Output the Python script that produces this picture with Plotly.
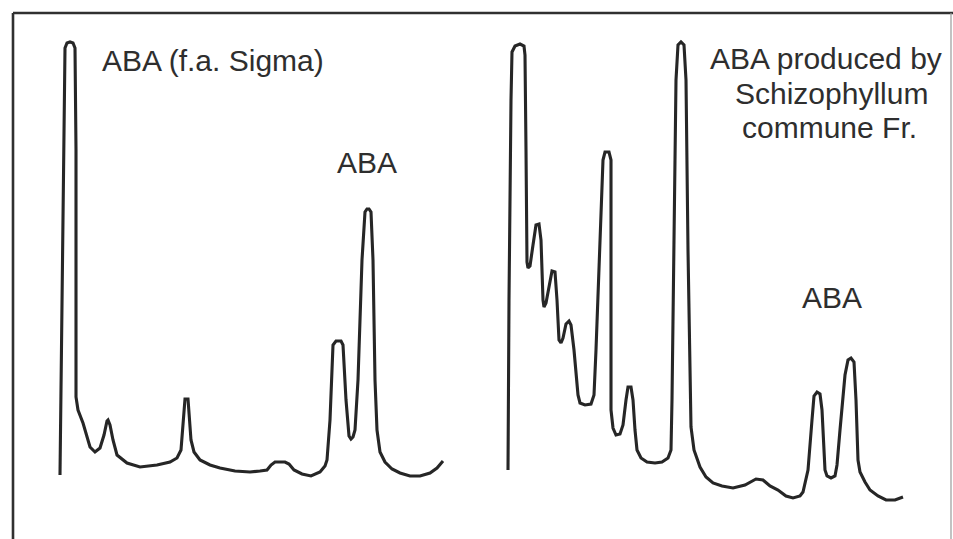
import plotly.graph_objects as go

# Trace 1: ABA standard (f.a. Sigma) - read in picture pixel coordinates
std_x = [60, 62, 64, 65, 67, 70, 73, 75, 76, 76, 78, 83, 90, 95, 100, 104, 107, 108, 110, 113, 117,
         127, 140, 157, 170, 177, 181, 185, 188, 191, 194, 200, 210, 220, 235, 250, 260, 267, 271,
         275, 285, 289, 294, 302, 311, 320, 325, 327, 330, 333, 336, 341, 343, 346, 349, 351, 353,
         355, 358, 362, 365, 367, 369, 371, 373, 375, 377, 380, 385, 392, 400, 410, 420, 430, 437, 443]
std_y = [475, 300, 100, 48, 43, 42, 43, 48, 150, 397, 410, 423, 447, 452, 448, 435, 421, 420, 425, 440, 455,
         463, 467, 465, 462, 458, 450, 399, 399, 440, 452, 460, 465, 468, 471, 472, 471, 470, 465,
         462, 462, 464, 470, 474, 476, 472, 466, 460, 420, 345, 341, 341, 345, 400, 436, 439, 437,
         430, 380, 260, 212, 209, 209, 212, 260, 380, 430, 452, 462, 469, 473, 476, 476, 473, 468, 461]

# Trace 2: ABA produced by Schizophyllum commune Fr.
fun_x = [508, 509, 511, 512, 515, 520, 524, 525, 526, 527, 528, 530, 533, 536, 539, 541, 543, 544, 546,
         550, 552, 555, 557, 559, 561, 563, 566, 569, 571, 574, 578, 580, 585, 591, 594, 596, 600, 603,
         605, 609, 611, 611, 611, 613, 616, 620, 623, 626, 628, 631, 633, 635, 637, 641, 647, 655, 662,
         668, 671, 672, 674, 676, 678, 681, 684, 686, 688, 690, 691, 694, 700, 706, 713, 722, 733, 745,
         756, 763, 770, 778, 786, 793, 800, 803, 808, 812, 814, 817, 820, 822, 824, 825, 827, 831, 835,
         837, 840, 845, 848, 851, 854, 856, 858, 860, 865, 870, 878, 886, 895, 903]
fun_y = [470, 300, 100, 52, 46, 44, 46, 55, 150, 262, 268, 266, 245, 225, 224, 240, 300, 307, 303,
         280, 271, 272, 300, 340, 343, 338, 324, 321, 325, 350, 395, 403, 405, 404, 395, 350, 250, 160,
         152, 152, 160, 250, 410, 428, 435, 434, 425, 400, 387, 387, 400, 430, 450, 458, 462, 463, 462,
         458, 450, 400, 250, 80, 45, 42, 45, 80, 250, 400, 427, 450, 467, 477, 483, 486, 488, 485,
         479, 480, 486, 490, 496, 498, 496, 492, 470, 420, 396, 392, 394, 410, 450, 470, 476, 478, 476,
         465, 430, 375, 360, 358, 362, 400, 460, 472, 482, 490, 496, 500, 500, 497]

labels = ["ABA (f.a. Sigma)", "ABA", "ABA produced by", "Schizophyllum", "commune Fr.", "ABA"]
label_x = [100, 367, 826, 831, 829, 832]
label_y = [60, 162, 58, 93, 127, 297]
label_anchor = ["left", "center", "center", "center", "center", "center"]

line_col = "#262626"
fig = go.Figure()
fig.add_trace(go.Scatter(x=std_x, y=std_y, mode="lines",
                         line=dict(color=line_col, width=3.1), hoverinfo="skip"))
fig.add_trace(go.Scatter(x=fun_x, y=fun_y, mode="lines",
                         line=dict(color=line_col, width=3.1), hoverinfo="skip"))

for t, x, y, a in zip(labels, label_x, label_y, label_anchor):
    fig.add_annotation(x=x, y=y, text=t, showarrow=False, xanchor=a, yanchor="middle",
                       font=dict(family="Arial, Liberation Sans, sans-serif", size=30, color="#2e2e2e"))

# frame (top, left, right; bottom runs off the picture)
fig.add_shape(type="line", xref="x", yref="y", x0=13, y0=539, x1=13, y1=13,
              line=dict(color="#303030", width=2.6))
fig.add_shape(type="line", xref="x", yref="y", x0=13, y0=13, x1=953, y1=13,
              line=dict(color="#303030", width=2.6))
fig.add_shape(type="line", xref="x", yref="y", x0=951, y0=13, x1=951, y1=539,
              line=dict(color="#9a9a9a", width=1.2))

fig.update_layout(width=953, height=539, margin=dict(l=0, r=0, t=0, b=0),
                  paper_bgcolor="white", plot_bgcolor="white", showlegend=False,
                  xaxis=dict(range=[0, 953], visible=False, fixedrange=True),
                  yaxis=dict(range=[539, 0], visible=False, fixedrange=True))
fig.write_html("out.html", config={"displayModeBar": False},
               post_script="document.body.style.margin='0';document.body.style.overflow='hidden';")
